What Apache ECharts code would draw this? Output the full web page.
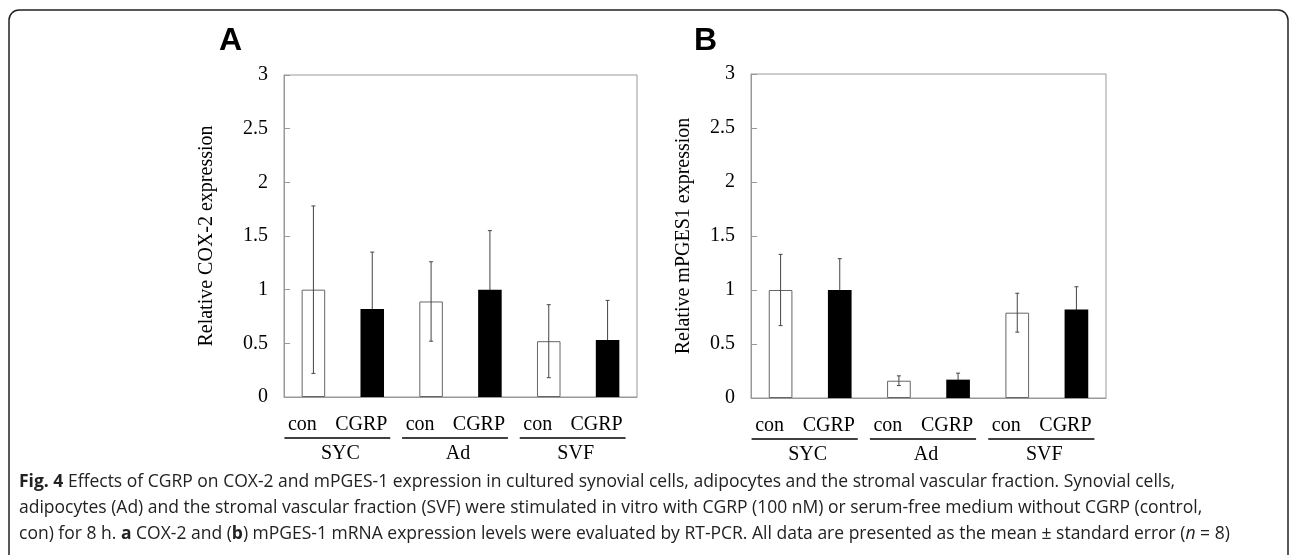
<!DOCTYPE html>
<html>
<head>
<meta charset="utf-8">
<script src="https://cdn.jsdelivr.net/npm/echarts@6/dist/echarts.min.js"></script>
<style>
  html, body { margin: 0; padding: 0; background: #fff; }
  #chart { width: 1290px; height: 555px; }
</style>
</head>
<body>
<div id="chart"></div>
<script>
// data
const categories = ['con', 'CGRP', 'con', 'CGRP', 'con', 'CGRP']
const groups = ['SYC', 'Ad', 'SVF']
const yTicks = [0, 0.5, 1, 1.5, 2, 2.5, 3]

const coxMean = [1.00, 0.82, 0.89, 1.00, 0.52, 0.53]
const coxErr = [0.78, 0.53, 0.37, 0.55, 0.34, 0.37]
const pgesMean = [1.00, 1.00, 0.16, 0.17, 0.79, 0.82]
const pgesErr = [0.33, 0.29, 0.045, 0.06, 0.18, 0.21]

const serif = 'Liberation Serif'
const capFont = 'Open Sans'

function renderError (params, api) {
  const lo = api.coord([api.value(0), api.value(1)])
  const hi = api.coord([api.value(0), api.value(2)])
  const st = { stroke: '#444', lineWidth: 1 }
  return {
    type: 'group',
    children: [
      { type: 'line', shape: { x1: lo[0], y1: lo[1], x2: hi[0], y2: hi[1] }, style: st },
      { type: 'line', shape: { x1: lo[0] - 2, y1: lo[1], x2: lo[0] + 2, y2: lo[1] }, style: st },
      { type: 'line', shape: { x1: hi[0] - 2, y1: hi[1], x2: hi[0] + 2, y2: hi[1] }, style: st }
    ]
  }
}

function renderGroup (params, api) {
  const a = api.coord([api.value(0), 0])
  const b = api.coord([api.value(1), 0])
  const x0 = a[0] - 29
  const x1 = b[0] + 18
  const y = a[1] + 41
  return {
    type: 'group',
    children: [
      { type: 'line', shape: { x1: x0, y1: y, x2: x1, y2: y }, style: { stroke: '#000', lineWidth: 1.3 } },
      {
        type: 'text',
        style: {
          text: groups[params.dataIndex], x: (x0 + x1) / 2 + 3, y: y + 16,
          align: 'center', verticalAlign: 'middle',
          fontFamily: serif, fontSize: 20, fill: '#000'
        }
      }
    ]
  }
}

function panel (i, means, errs, yName, gap) {
  const xAxis = {
    type: 'category',
    gridIndex: i,
    data: categories,
    axisLine: { lineStyle: { color: '#999' } },
    axisTick: { show: false },
    axisLabel: {
      interval: 0, hideOverlap: false,
      color: '#000', fontFamily: serif, fontSize: 20, margin: 18, padding: [0, 22, 0, 0]
    }
  }
  const yAxis = {
    type: 'value',
    gridIndex: i,
    min: yTicks[0],
    max: yTicks[yTicks.length - 1],
    interval: yTicks[1] - yTicks[0],
    name: yName,
    nameLocation: 'middle',
    nameGap: gap,
    nameTextStyle: { color: '#000', fontFamily: serif, fontSize: 20 },
    axisLine: { show: true, lineStyle: { color: '#999' } },
    axisTick: { show: true, inside: true, length: 6, lineStyle: { color: '#999' } },
    splitLine: { show: false },
    axisLabel: { color: '#000', fontFamily: serif, fontSize: 20, margin: 16 }
  }
  const con = means.map((v, k) => (k % 2 === 0 ? v : '-'))
  const cgrp = means.map((v, k) => (k % 2 === 1 ? v : '-'))
  const series = [
    {
      type: 'bar', xAxisIndex: i, yAxisIndex: i, data: con, barWidth: '40%', barGap: '-100%', z: 2,
      itemStyle: { color: '#fff', borderColor: '#666', borderWidth: 1 }
    },
    {
      type: 'custom', xAxisIndex: i, yAxisIndex: i, z: 3, clip: false,
      renderItem: renderError,
      encode: { x: 0, y: [1, 2] },
      data: means.map((m, k) => [k, m - errs[k], m + errs[k]])
    },
    {
      type: 'bar', xAxisIndex: i, yAxisIndex: i, data: cgrp, barWidth: '40%', barGap: '-100%', z: 4,
      itemStyle: { color: '#000' }
    },
    {
      type: 'custom', xAxisIndex: i, yAxisIndex: i, z: 5, clip: false, silent: true,
      renderItem: renderGroup,
      encode: { x: [0, 1], y: 2 },
      data: groups.map((g, k) => [2 * k, 2 * k + 1, 0])
    }
  ]
  return { xAxis, yAxis, series }
}

const pa = panel(0, coxMean, coxErr, 'Relative COX-2 expression', 67)
const pb = panel(1, pgesMean, pgesErr, 'Relative mPGES1 expression', 57)

const capSize = 17.5
const rich = {
  b: { fontFamily: capFont, fontSize: capSize, fontWeight: 'bold', fill: '#222' },
  n: { fontFamily: capFont, fontSize: capSize, fill: '#222' },
  i: { fontFamily: capFont, fontSize: capSize, fontStyle: 'italic', fill: '#222' }
}
const captionLines = [
  '{b|Fig. 4}{n| Effects of CGRP on COX-2 and mPGES-1 expression in cultured synovial cells, adipocytes and the stromal vascular fraction. Synovial cells,}',
  '{n|adipocytes (Ad) and the stromal vascular fraction (SVF) were stimulated in vitro with CGRP (100 nM) or serum-free medium without CGRP (control,}',
  '{n|con) for 8 h. }{b|a}{n| COX-2 and (}{b|b}{n|) mPGES-1 mRNA expression levels were evaluated by RT-PCR. All data are presented as the mean ± standard error (}{i|n}{n| = 8)}'
]

const option = {
  animation: false,
  title: [
    { text: 'A', left: 219, top: 25, padding: 0, textStyle: { fontFamily: 'Liberation Sans', fontWeight: 'bold', fontSize: 32, color: '#000' } },
    { text: 'B', left: 694, top: 25, padding: 0, textStyle: { fontFamily: 'Liberation Sans', fontWeight: 'bold', fontSize: 32, color: '#000' } }
  ],
  grid: [
    { left: 284, top: 75, width: 353, height: 322, show: true, borderColor: '#999', borderWidth: 1, backgroundColor: 'transparent' },
    { left: 751, top: 74, width: 355, height: 324, show: true, borderColor: '#999', borderWidth: 1, backgroundColor: 'transparent' }
  ],
  xAxis: [pa.xAxis, pb.xAxis],
  yAxis: [pa.yAxis, pb.yAxis],
  series: pa.series.concat(pb.series),
  graphic: [
    {
      type: 'rect', silent: true,
      shape: { x: 9, y: 10, width: 1279, height: 600, r: [10, 10, 0, 0] },
      style: { fill: 'none', stroke: '#222', lineWidth: 1.5 }
    }
  ].concat(captionLines.map((t, k) => ({
    type: 'text', silent: true, left: 19, top: 473 + k * 26,
    style: { text: t, rich: rich, fontFamily: capFont, fontSize: capSize, fill: '#222' }
  })))
}

const chart = echarts.init(document.getElementById('chart'))
chart.setOption(option)
window.addEventListener('resize', () => chart.resize())
</script>
</body>
</html>
